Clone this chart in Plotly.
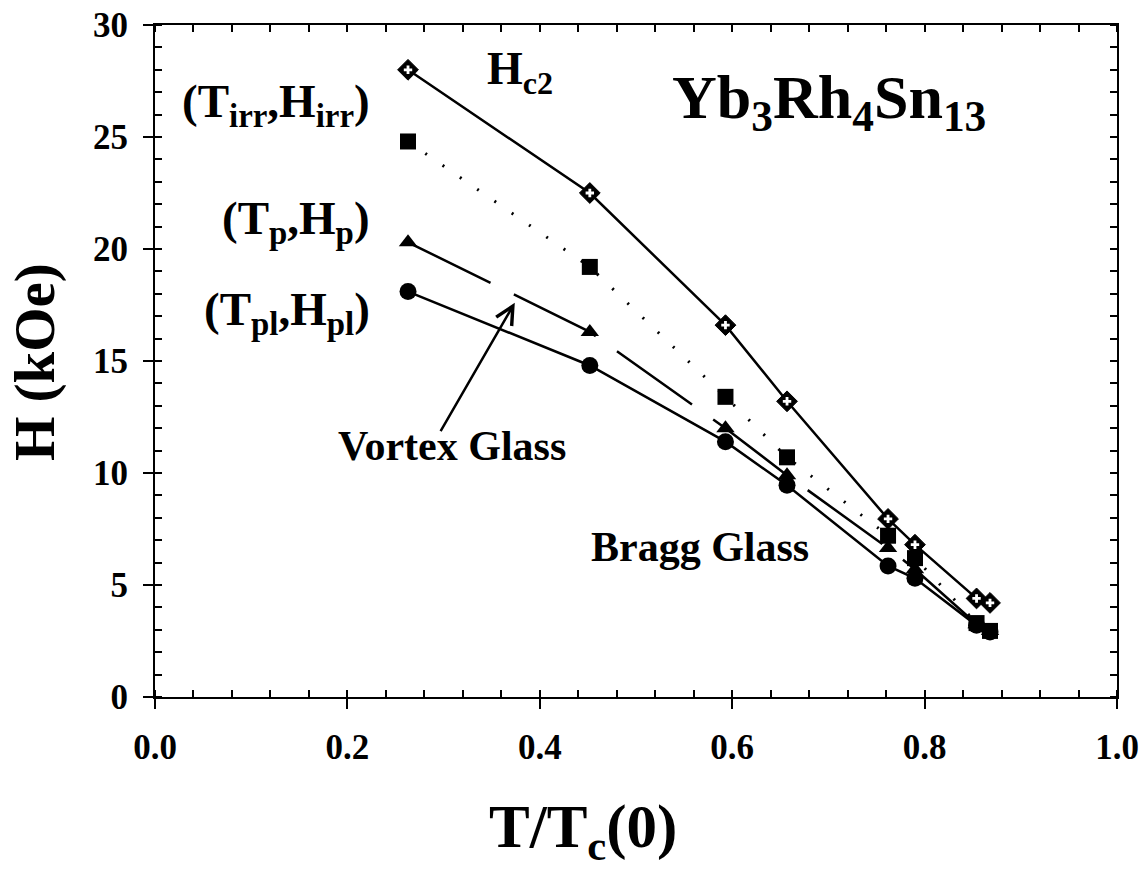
import plotly.graph_objects as go

# Data
t_ratio = [0.263, 0.452, 0.593, 0.657, 0.762, 0.790, 0.854, 0.868]
h_c2 = [28.0, 22.5, 16.6, 13.2, 7.95, 6.8, 4.4, 4.2]
h_irr = [24.8, 19.2, 13.4, 10.7, 7.2, 6.2, 3.3, 2.95]
h_p = [20.3, 16.3, 12.0, 9.9, 6.65, 5.7, 3.25, 2.95]
h_pl = [18.1, 14.8, 11.4, 9.45, 5.85, 5.3, 3.2, 2.9]

x_ticks = [0.0, 0.2, 0.4, 0.6, 0.8, 1.0]
y_ticks = [0, 5, 10, 15, 20, 25, 30]

FONT = "Liberation Serif, Times New Roman, serif"

fig = go.Figure()

# Hc2: solid line, black diamonds with white cross
fig.add_trace(go.Scatter(x=t_ratio, y=h_c2, mode="lines+markers",
                         line=dict(color="black", width=2.5),
                         marker=dict(symbol="diamond", size=16, color="black",
                                     line=dict(color="black", width=1)),
                         showlegend=False))
fig.add_trace(go.Scatter(x=t_ratio, y=h_c2, mode="markers",
                         marker=dict(symbol="cross", size=7, color="white",
                                     line=dict(width=0)),
                         showlegend=False))
# Hirr: dotted line with squares
fig.add_trace(go.Scatter(x=t_ratio, y=h_irr, mode="lines+markers",
                         line=dict(color="black", width=3, dash="2px,19px"),
                         marker=dict(symbol="square", size=16, color="black"),
                         showlegend=False))
# Hp: long dashes with triangles
fig.add_trace(go.Scatter(x=t_ratio, y=h_p, mode="lines+markers",
                         line=dict(color="black", width=2.5, dash="92px,26px"),
                         marker=dict(symbol="triangle-up", size=16, color="black"),
                         showlegend=False))
# Hpl: solid with circles
fig.add_trace(go.Scatter(x=t_ratio, y=h_pl, mode="lines+markers",
                         line=dict(color="black", width=2.5),
                         marker=dict(symbol="circle", size=17, color="black"),
                         showlegend=False))

tickfont = dict(family=FONT, size=35, color="black", weight="bold")

fig.update_xaxes(range=[0, 1], tickvals=x_ticks, ticktext=[f"{v:.1f}" for v in x_ticks],
                 ticks="outside", ticklen=10, tickwidth=2, tickcolor="black",
                 showline=True, linecolor="black", linewidth=2, mirror=True,
                 showgrid=False, zeroline=False, tickfont=tickfont,
                 ticklabelstandoff=8, automargin=False,
                 minor=dict(ticks="inside", dtick=0.04, tick0=0, ticklen=7,
                            tickwidth=2, tickcolor="black", showgrid=False))
fig.update_yaxes(range=[0, 30], tickvals=y_ticks,
                 ticks="outside", ticklen=10, tickwidth=2, tickcolor="black",
                 showline=True, linecolor="black", linewidth=2, mirror=True,
                 showgrid=False, zeroline=False, tickfont=tickfont,
                 ticklabelstandoff=8, automargin=False,
                 minor=dict(ticks="inside", dtick=1, tick0=0, ticklen=7,
                            tickwidth=2, tickcolor="black", showgrid=False))

# overlay axes for inside minor ticks on top and right
fig.update_layout(
    xaxis2=dict(overlaying="x", side="top", range=[0, 1], showticklabels=False,
                tickvals=x_ticks, ticks="", showgrid=False, zeroline=False,
                automargin=False,
                minor=dict(ticks="inside", dtick=0.04, tick0=0, ticklen=7,
                           tickwidth=2, tickcolor="black", showgrid=False)),
    yaxis2=dict(overlaying="y", side="right", range=[0, 30], showticklabels=False,
                tickvals=y_ticks, ticks="", showgrid=False, zeroline=False,
                automargin=False,
                minor=dict(ticks="inside", dtick=1, tick0=0, ticklen=7,
                           tickwidth=2, tickcolor="black", showgrid=False)),
)
fig.add_trace(go.Scatter(x=[None], y=[None], xaxis="x2", yaxis="y2",
                         showlegend=False, hoverinfo="skip"))

def ann(text, x, y, size, xanchor="center", yanchor="middle", **kw):
    fig.add_annotation(text=text, x=x, y=y, xref="x", yref="y", showarrow=False,
                       xanchor=xanchor, yanchor=yanchor,
                       font=dict(family=FONT, size=size, color="black", weight="bold"), **kw)

ann("(T<sub>irr</sub>,H<sub>irr</sub>)", 0.2256, 26.45, 47, xanchor="right")
ann("(T<sub>p</sub>,H<sub>p</sub>)", 0.2256, 21.25, 47, xanchor="right")
ann("(T<sub>pl</sub>,H<sub>pl</sub>)", 0.2256, 17.15, 47, xanchor="right")
ann("H<sub>c2</sub>", 0.379, 27.9, 46)
ann("Yb<sub>3</sub>Rh<sub>4</sub>Sn<sub>13</sub>", 0.7006, 26.6, 62)
ann("Vortex Glass", 0.309, 11.2, 42)
ann("Bragg Glass", 0.5666, 6.7, 42)

# arrow pointing to the vortex glass region
fig.add_annotation(x=0.374, y=17.6, ax=0.296, ay=11.8, xref="x", yref="y",
                   axref="x", ayref="y", text="", showarrow=True,
                   arrowhead=5, arrowsize=1.4, arrowwidth=2.5, arrowcolor="black",
                   standoff=0, startstandoff=0)

# axis titles
fig.add_annotation(text="T/T<sub>c</sub>(0)", x=0.445, y=-0.20, xref="paper", yref="paper",
                   showarrow=False, xanchor="center", yanchor="middle",
                   font=dict(family=FONT, size=61, color="black", weight="bold"))
fig.add_annotation(text="H (kOe)", x=-0.1247, y=0.4985, xref="paper", yref="paper",
                   showarrow=False, xanchor="center", yanchor="middle", textangle=-90,
                   font=dict(family=FONT, size=57, color="black", weight="bold"))

fig.update_layout(width=1144, height=876,
                  margin=dict(l=155, r=27, t=25, b=179),
                  paper_bgcolor="white", plot_bgcolor="white",
                  showlegend=False)

fig.write_html("out.html")
